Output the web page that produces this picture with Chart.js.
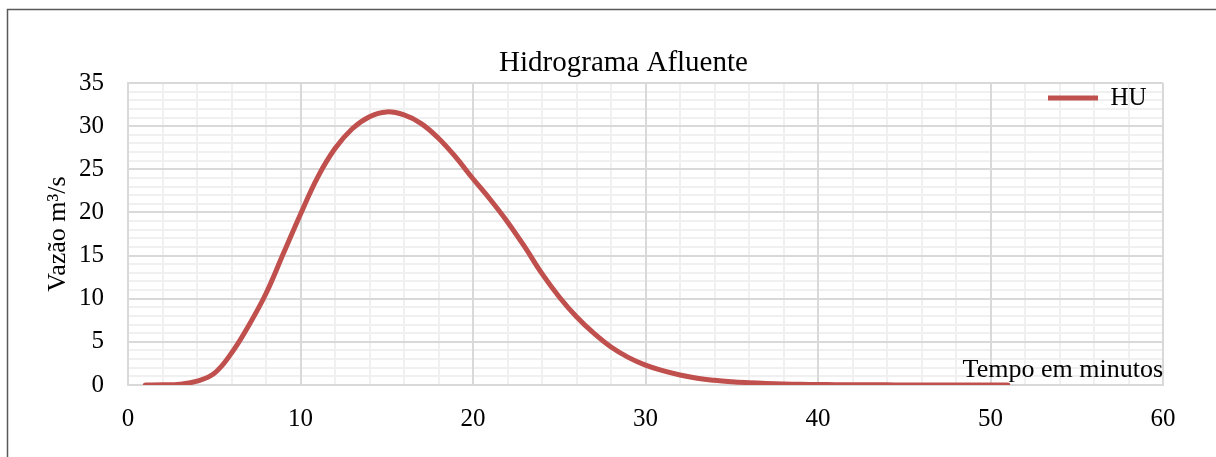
<!DOCTYPE html>
<html lang="pt">
<head>
<meta charset="utf-8">
<title>Hidrograma Afluente</title>
<script src="https://cdn.jsdelivr.net/npm/chart.js@4.4.1/dist/chart.umd.min.js"></script>
<style>
  html, body { margin: 0; padding: 0; background: #ffffff; }
  canvas { display: block; }
</style>
</head>
<body>
<canvas id="hidrograma" width="1216" height="457"></canvas>
<script>
// Hidrograma unitário: tempo (min) e vazão (m³/s)
const tempoMin = [
  1, 2, 3, 4, 5, 6, 7, 8, 9, 10,
  11, 12, 13, 14, 15, 16, 17, 18, 19, 20,
  21, 22, 23, 24, 25, 26, 27, 28, 29, 30,
  31, 32, 33, 34, 35, 36, 37, 38, 39, 40,
  41, 42, 43, 44, 45, 46, 47, 48, 49, 50, 51
];
const vazaoHU = [
  0, 0.02, 0.1, 0.45, 1.35, 3.7, 6.9, 10.6, 15.2, 19.8,
  24.1, 27.4, 29.7, 31.1, 31.65, 31.3, 30.3, 28.6, 26.4, 23.9,
  21.5, 18.9, 16.0, 12.9, 10.2, 7.9, 6.0, 4.4, 3.2, 2.3,
  1.66, 1.16, 0.78, 0.54, 0.38, 0.27, 0.18, 0.12, 0.08, 0.05,
  0.04, 0.03, 0.02, 0.015, 0.01, 0.008, 0.005, 0.003, 0.002, 0.001, 0
];

// Eixos: limites e passos das divisões principais e secundárias
const eixoX = { min: 0, max: 60, passo: 10, passoSecundario: 2 };
const eixoY = { min: 0, max: 35, passo: 5, passoSecundario: 1 };

const serieNome = 'HU';
const tituloGrafico = 'Hidrograma Afluente';
const tituloX = 'Tempo em minutos';
const tituloY = 'Vazão m³/s';

const FONTE = "'Liberation Serif', 'Times New Roman', Times, serif";
const COR_LINHA = '#c0504d';
const COR_GRADE = '#d9d9d9';
const COR_GRADE_SEC = '#f0f0f0';

const pontos = tempoMin.map((t, i) => ({ x: t, y: vazaoHU[i] }));

// Fundo branco e moldura da área do gráfico
const moldura = {
  id: 'moldura',
  beforeDraw(chart) {
    const ctx = chart.ctx;
    ctx.save();
    ctx.fillStyle = '#ffffff';
    ctx.fillRect(0, 0, chart.width, chart.height);
    ctx.strokeStyle = '#595959';
    ctx.lineWidth = 1.5;
    ctx.beginPath();
    ctx.moveTo(7.5, chart.height + 2);
    ctx.lineTo(7.5, 9.5);
    ctx.lineTo(chart.width + 2, 9.5);
    ctx.stroke();
    ctx.restore();
  }
};

// Legenda dentro da área de plotagem, no canto superior direito
const legendaInterna = {
  id: 'legendaInterna',
  afterLayout(chart) {
    const lg = chart.legend;
    const a = chart.chartArea;
    if (!lg) return;
    const w = lg.width, h = lg.height;
    lg.left = a.right - 125;
    lg.right = lg.left + w;
    lg.top = a.top - 7.5;
    lg.bottom = lg.top + h;
  }
};

const gradeSecundaria = (cor) => ({ color: cor, lineWidth: 2, drawTicks: false });

new Chart(document.getElementById('hidrograma'), {
  type: 'line',
  data: {
    datasets: [{
      label: serieNome,
      data: pontos,
      borderColor: COR_LINHA,
      backgroundColor: COR_LINHA,
      borderWidth: 5,
      borderCapStyle: 'round',
      borderJoinStyle: 'round',
      pointRadius: 0,
      pointHoverRadius: 0,
      tension: 0.4,
      fill: false,
      xAxisID: 'x',
      yAxisID: 'y'
    }]
  },
  options: {
    responsive: false,
    animation: false,
    events: [],
    layout: { padding: { top: 46, left: 31, right: 0, bottom: 0 } },
    plugins: {
      title: {
        display: true,
        text: tituloGrafico,
        color: '#000000',
        font: { family: FONTE, size: 29, weight: 'normal' },
        padding: { top: 0, bottom: 2.2 }
      },
      legend: {
        display: true,
        position: 'chartArea',
        align: 'start',
        labels: {
          usePointStyle: true,
          pointStyle: 'line',
          pointStyleWidth: 50,
          padding: 10,
          color: '#000000',
          font: { family: FONTE, size: 25 }
        }
      },
      tooltip: { enabled: false }
    },
    scales: {
      xSec: {
        type: 'linear',
        position: 'bottom',
        min: eixoX.min, max: eixoX.max,
        z: -1,
        ticks: { display: false, stepSize: eixoX.passoSecundario, autoSkip: false },
        grid: gradeSecundaria(COR_GRADE_SEC),
        border: { display: false },
        afterFit(s) { s.height = 0; }
      },
      ySec: {
        type: 'linear',
        position: 'left',
        min: eixoY.min, max: eixoY.max,
        z: -1,
        ticks: { display: false, stepSize: eixoY.passoSecundario, autoSkip: false },
        grid: gradeSecundaria(COR_GRADE_SEC),
        border: { display: false },
        afterFit(s) { s.width = 0; }
      },
      x: {
        type: 'linear',
        position: 'bottom',
        min: eixoX.min, max: eixoX.max,
        ticks: {
          stepSize: eixoX.passo,
          autoSkip: false,
          maxRotation: 0,
          padding: 19,
          color: '#000000',
          font: { family: FONTE, size: 25 }
        },
        grid: { color: COR_GRADE, lineWidth: 2, drawTicks: false },
        border: { color: COR_GRADE, width: 2 },
        title: {
          display: true,
          text: tituloX,
          align: 'end',
          color: '#000000',
          font: { family: FONTE, size: 26 },
          padding: { top: 0, bottom: 71.6 }
        },
        afterFit(s) { s.height = 72; s.paddingRight = 53; }
      },
      y: {
        type: 'linear',
        position: 'left',
        min: eixoY.min, max: eixoY.max,
        ticks: {
          stepSize: eixoY.passo,
          autoSkip: false,
          padding: 24,
          color: '#000000',
          font: { family: FONTE, size: 25 }
        },
        grid: { color: COR_GRADE, lineWidth: 2, drawTicks: false },
        border: { color: COR_GRADE, width: 2 },
        title: {
          display: true,
          text: tituloY,
          color: '#000000',
          font: { family: FONTE, size: 26 },
          padding: { top: 12, bottom: 0 }
        },
        afterFit(s) { s.width = 97; }
      }
    }
  },
  plugins: [moldura, legendaInterna]
});
</script>
</body>
</html>
